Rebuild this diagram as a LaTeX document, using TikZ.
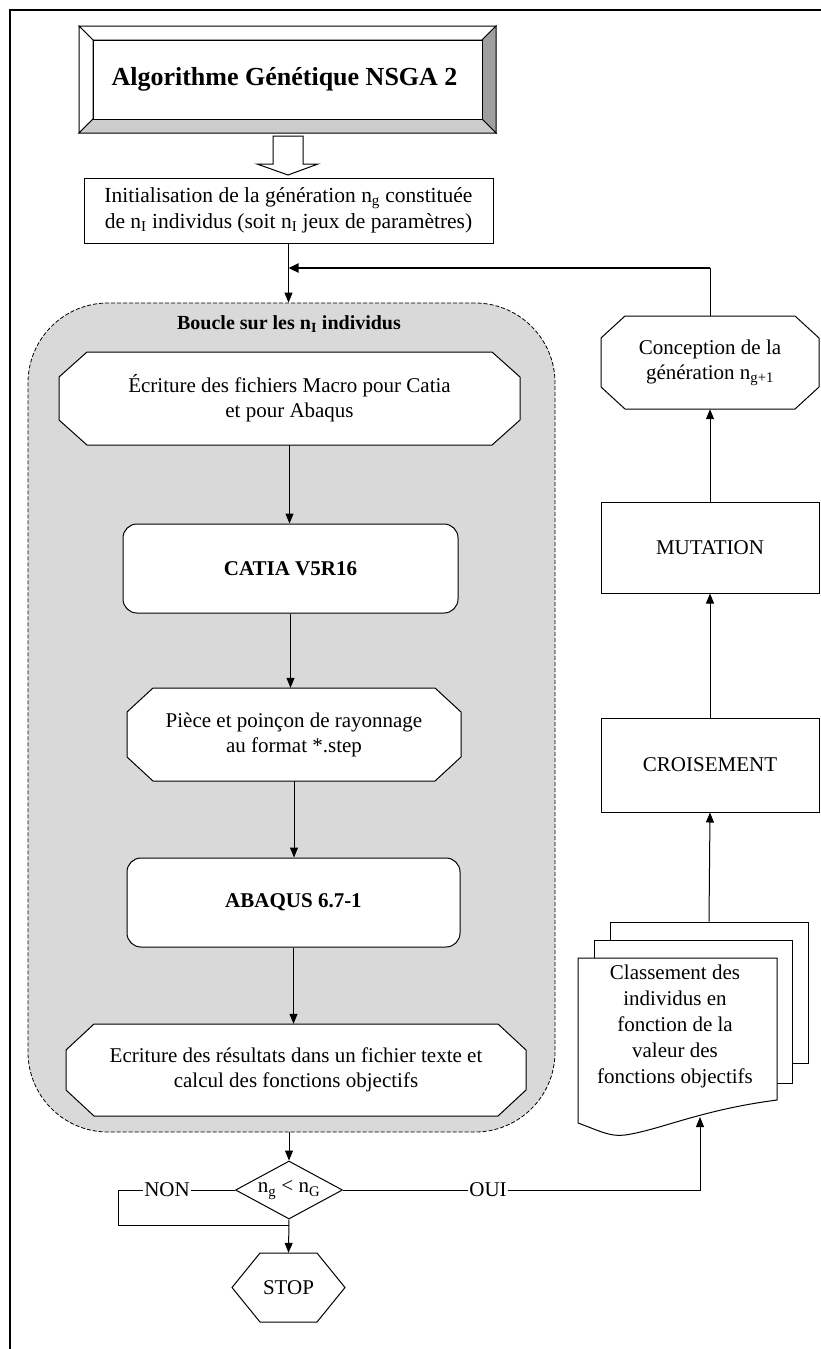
\documentclass[tikz,border=0pt]{standalone}
\usepackage{fontspec}
\setmainfont{Liberation Serif}
\usetikzlibrary{arrows.meta,shapes.geometric}
\definecolor{loopgray}{HTML}{D9D9D9}
\newcommand\octnode[8]{%
  \draw[fill=white,line width=1pt] (#2+#6,#3) -- (#4-#6,#3) -- (#4,#3+#7) -- (#4,#5-#7) -- (#4-#6,#5) -- (#2+#6,#5) -- (#2,#5-#7) -- (#2,#3+#7) -- cycle;
  \node[minimum width=#4-#2, minimum height=#5-#3] (#1) at ({(#2+#4)/2},{(#3+#5)/2}) {#8};}
\begin{document}
\begin{tikzpicture}[x=1pt,y=-1pt,
  every node/.style={font=\fontsize{21}{25}\selectfont, align=center, inner sep=0pt},
  box/.style={draw, fill=white, line width=1pt},
  rbox/.style={draw, fill=white, line width=1pt, rounded corners=14pt},
  ln/.style={line width=1pt},
  arr/.style={line width=1pt, -{Triangle[length=10pt,width=8pt]}},
  bigarr/.style={line width=2.3pt, -{Triangle[length=10pt,width=9pt]}},
  boldtxt/.style={font=\fontsize{21}{25}\selectfont\bfseries}]
\useasboundingbox (0,0) rectangle (820,1349);
\fill[white] (0,0) rectangle (820,1349);
% outer frame
\draw[line width=2.5pt] (10,1360) -- (10,10) -- (830,10);
% title bevel box
\filldraw[fill=white, ln] (79,26) -- (496,26) -- (482,40) -- (93,40) -- cycle;
\filldraw[fill=white, ln] (79,26) -- (93,40) -- (93,119) -- (79,133) -- cycle;
\filldraw[fill=gray!75, ln] (496,26) -- (496,133) -- (482,119) -- (482,40) -- cycle;
\filldraw[fill=gray!40, ln] (79,133) -- (496,133) -- (482,119) -- (93,119) -- cycle;
\node[box, minimum width=389pt, minimum height=79pt, font=\fontsize{26}{30}\selectfont\bfseries] (title) at (287.5,79.5) {\hspace*{-6pt}Algorithme Génétique NSGA 2};
% block arrow
\draw[fill=white, ln] (273,136) -- (303,136) -- (303,164) -- (318,164) -- (288,175) -- (257,164) -- (273,164) -- cycle;
% init
\node[box, minimum width=409pt, minimum height=65pt, font=\fontsize{21.5}{26}\selectfont] (init) at (288.5,210.5) {Initialisation de la génération n\textsubscript{g} constituée\\de n\textsubscript{I} individus (soit n\textsubscript{I} jeux de paramètres)};
% loop container
\node[draw, fill=loopgray, dash pattern=on 4pt off 2pt, line width=0.8pt, rounded corners=80pt, minimum width=527pt, minimum height=829pt] (loop) at (291.5,717.5) {};
\node[font=\fontsize{20}{24}\selectfont\bfseries] (boucle) at (289,324) {Boucle sur les n\textsubscript{I} individus};
\draw[arr] (init.south) -- (init.south |- loop.north);
% left chain
\octnode{oct1}{59}{352}{520}{445}{28}{25}{Écriture des fichiers Macro pour Catia\\et pour Abaqus}
\node[rbox, boldtxt, minimum width=335pt, minimum height=89pt] (catia) at (290.5,568.5) {CATIA V5R16};
\octnode{piece}{127}{688}{461}{781}{26}{24}{Pièce et poinçon de rayonnage\\au format *.step}
\node[rbox, boldtxt, minimum width=333pt, minimum height=89pt] (abaqus) at (293.5,902.5) {ABAQUS 6.7-1};
\octnode{ecr}{66}{1024}{526}{1116}{28}{26}{Ecriture des résultats dans un fichier texte et\\calcul des fonctions objectifs}
\draw[arr] (oct1.south) -- (oct1.south |- catia.north);
\draw[arr] (catia.south) -- (catia.south |- piece.north);
\draw[arr] (piece.south) -- (piece.south |- abaqus.north);
\draw[arr] (abaqus.south) -- (abaqus.south |- ecr.north);
% decision
\node[draw, diamond, aspect=1.84, line width=1pt, fill=white, minimum width=107pt, minimum height=58pt] (dec) at (289,1190) {n\textsubscript{g} < n\textsubscript{G}};
\draw[arr] (dec.north |- loop.south) -- (dec.north);
\node[inner sep=1pt] (non) at (167,1190) {NON};
\node[inner sep=1pt] (oui) at (488,1190) {OUI};
\coordinate (nl) at (118,1190);
\coordinate (nb) at (118,1225);
\coordinate (jn) at (289,1225);
\draw[ln] (dec.west) -- (non.east);
\draw[ln] (non.west) -- (nl) -- (nb) -- (jn);
% stop
\draw[fill=white, ln] (260,1253) -- (317,1253) -- (345,1287.5) -- (317,1322) -- (260,1322) -- (232,1287.5) -- cycle;
\node[minimum width=113pt, minimum height=69pt] (stop) at (288.5,1287.5) {STOP};
\draw[arr] (dec.south) -- (stop.north);
% right column
\octnode{conc}{601}{316}{819}{409}{24}{22}{Conception de la\\génération n\textsubscript{g+1}}
\node[box, minimum width=218pt, minimum height=91pt] (mut) at (710,547.5) {MUTATION};
\node[box, minimum width=218pt, minimum height=94pt] (crois) at (710,765) {CROISEMENT};
% document stack
\node[box, minimum width=198pt, minimum height=141pt] (doc3) at (709,992.5) {};
\node[box, minimum width=198pt, minimum height=143pt] (doc2) at (693,1011.5) {};
\draw[fill=white, ln] (578,958) -- (777,958) -- (777,1100) .. controls (700,1110) and (660,1130) .. (625,1135) .. controls (610,1137) and (600,1131) .. (578,1123) -- cycle;
\node[font=\fontsize{21}{26}\selectfont] (doc) at (675,1026) {Classement des\\individus en\\fonction de la\\valeur des\\fonctions objectifs};
\coordinate (docb) at (700,1117);
% connectors right
\draw[arr] (doc3.north) -- (crois.south);
\draw[arr] (crois.north) -- (mut.south);
\draw[arr] (mut.north) -- (conc.south);
\draw[ln] (dec.east) -- (oui.west);
\draw[arr] (oui.east) -- (docb |- oui.east) -- (docb);
% feedback
\coordinate (fb) at (710,268);
\coordinate (fbj) at (init.south |- fb);
\draw[ln] (conc.north) -- (fb);
\draw[bigarr] (fb) -- (fbj);
\end{tikzpicture}
\end{document}
